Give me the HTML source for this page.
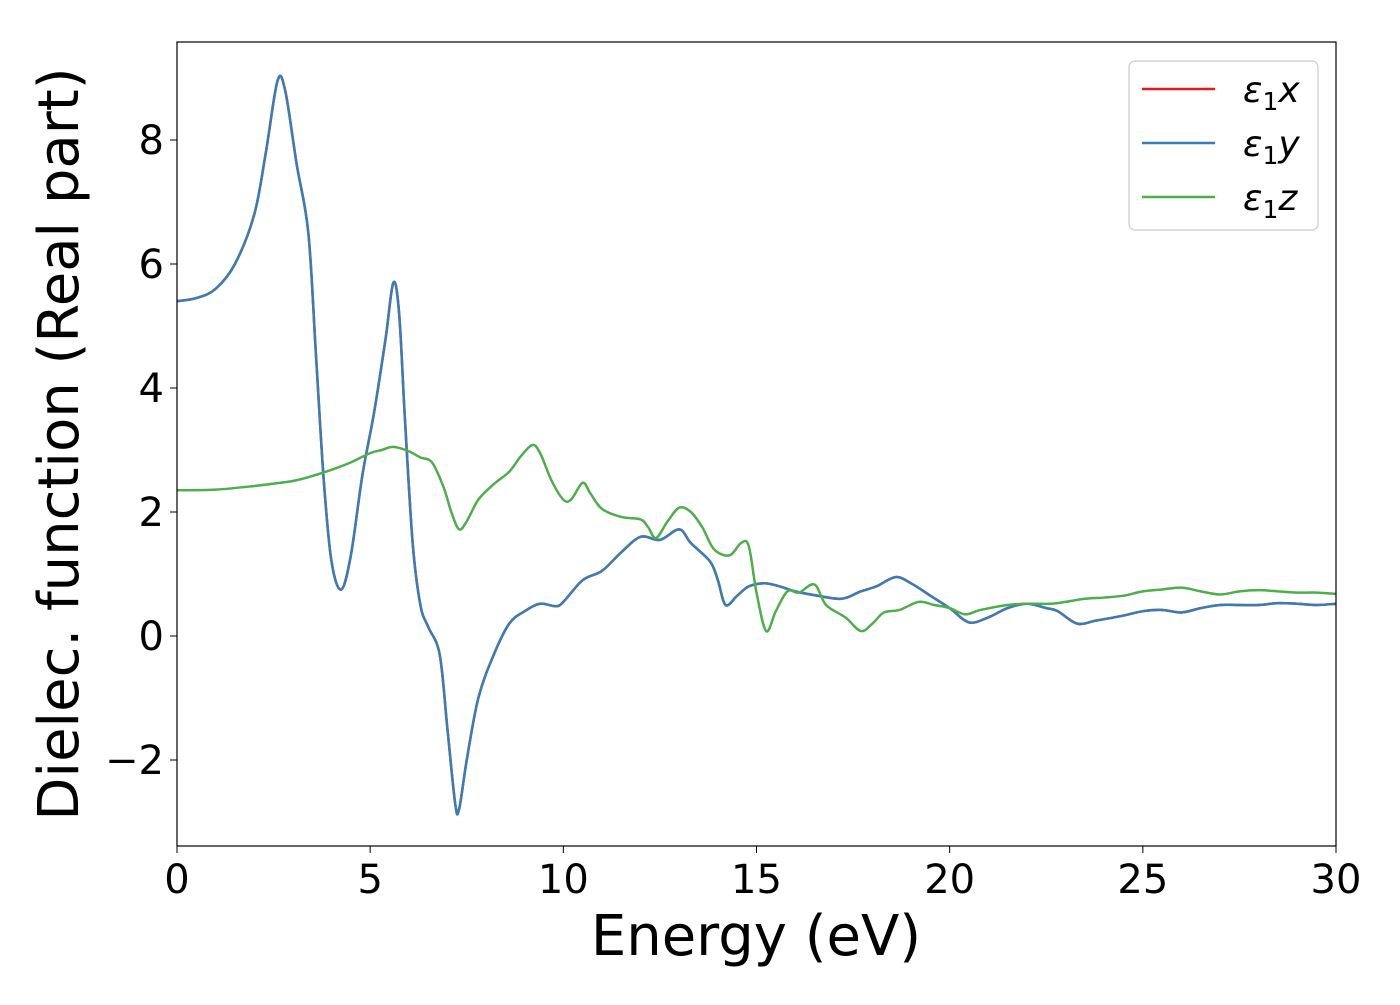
<!DOCTYPE html>
<html><head><meta charset="utf-8"><style>
body{margin:0;background:#fff;width:1400px;height:1000px;overflow:hidden}
svg text{font-family:"DejaVu Sans","Liberation Sans",sans-serif;fill:#000}
</style></head><body>
<svg id="chart" width="1400" height="1000" xmlns="http://www.w3.org/2000/svg">
<g id="marks"></g>
<rect x="177" y="42" width="1159" height="804" fill="none" stroke="#000" stroke-width="1.2"/>
<g id="ticks"></g>
<text x="756" y="955" font-size="56" text-anchor="middle">Energy (eV)</text>
<text transform="translate(78,444) rotate(-90)" font-size="56" text-anchor="middle">Dielec. function (Real part)</text>
<g>
<rect x="1129" y="61" width="189" height="169" rx="6" fill="#fff" stroke="#ccc" stroke-width="1.2"/>
<line x1="1142" y1="89" x2="1215" y2="89" stroke="#e41a1c" stroke-width="2.5"/>
<text x="1243" y="102" font-size="36"><tspan font-style="italic">ε</tspan><tspan font-size="25" dy="8">1</tspan><tspan font-style="italic" dy="-8">x</tspan></text>
<line x1="1142" y1="143" x2="1215" y2="143" stroke="#377eb8" stroke-width="2.5"/>
<text x="1243" y="156" font-size="36"><tspan font-style="italic">ε</tspan><tspan font-size="25" dy="8">1</tspan><tspan font-style="italic" dy="-8">y</tspan></text>
<line x1="1142" y1="197" x2="1215" y2="197" stroke="#4daf4a" stroke-width="2.5"/>
<text x="1243" y="210" font-size="36"><tspan font-style="italic">ε</tspan><tspan font-size="25" dy="8">1</tspan><tspan font-style="italic" dy="-8">z</tspan></text>
</g>
</svg>
<script>
const xyE=[0,0.5,1,1.5,2,2.3,2.6,2.8,3.1,3.4,3.6,3.8,4.0,4.25,4.5,4.8,5.1,5.4,5.6,5.75,5.9,6.1,6.3,6.5,6.8,7.0,7.2,7.3,7.5,7.8,8.2,8.6,9.0,9.4,9.8,10.0,10.5,11.0,11.5,12.0,12.5,13.0,13.3,13.8,14.0,14.2,14.5,14.8,15.2,15.6,16,16.5,17.2,17.7,18.1,18.6,19.0,19.5,20.0,20.5,21,21.5,22,22.5,22.8,23.3,23.8,24.5,25,25.5,26,26.5,27,27.5,28,28.5,29,29.5,30];
const xyVals=[5.4,5.45,5.6,6.0,6.8,7.8,8.95,8.8,7.6,6.5,4.5,2.5,1.2,0.75,1.3,2.6,3.6,4.8,5.7,5.2,3.5,1.5,0.5,0.15,-0.3,-1.5,-2.7,-2.8,-2.0,-1.0,-0.3,0.2,0.4,0.52,0.48,0.55,0.9,1.05,1.35,1.6,1.55,1.72,1.5,1.2,0.9,0.5,0.65,0.8,0.85,0.8,0.72,0.66,0.6,0.72,0.8,0.95,0.85,0.65,0.45,0.22,0.3,0.45,0.52,0.45,0.4,0.2,0.25,0.33,0.4,0.42,0.38,0.45,0.5,0.5,0.5,0.53,0.52,0.5,0.52];
const zE=[0,1,2,3,3.5,4,4.5,5,5.3,5.6,6.0,6.3,6.6,6.9,7.1,7.3,7.5,7.8,8.2,8.6,8.9,9.2,9.4,9.7,10.0,10.2,10.5,10.7,11,11.5,12,12.2,12.4,12.7,13.0,13.3,13.6,13.9,14.3,14.6,14.8,15.0,15.25,15.5,15.8,16.1,16.5,16.8,17.3,17.7,18.0,18.3,18.7,19.2,19.6,20,20.4,20.8,21.5,22,22.6,23,23.5,24,24.5,25,25.5,26,26.5,27,27.5,28,28.5,29,29.5,30];
const zVals=[2.35,2.36,2.42,2.5,2.58,2.68,2.8,2.95,3.0,3.05,2.98,2.88,2.8,2.4,2.0,1.72,1.85,2.2,2.45,2.65,2.9,3.08,2.95,2.5,2.2,2.2,2.47,2.3,2.05,1.92,1.88,1.75,1.58,1.85,2.07,2.0,1.75,1.4,1.3,1.5,1.45,0.7,0.08,0.4,0.72,0.7,0.83,0.5,0.3,0.08,0.2,0.38,0.42,0.55,0.5,0.45,0.35,0.42,0.5,0.52,0.52,0.55,0.6,0.62,0.65,0.72,0.75,0.78,0.72,0.67,0.72,0.74,0.72,0.7,0.7,0.68];
const xTicks=[0,5,10,15,20,25,30];
const yTicks=[-2,0,2,4,6,8];
const X=v=>177+v*(1336-177)/30;
const Y=v=>636-v*62;
const NS='http://www.w3.org/2000/svg';
function pathD(xs,ys){
  const p=xs.map((x,i)=>[X(x),Y(ys[i])]);
  let d='M'+p[0][0]+','+p[0][1];
  for(let i=0;i<p.length-1;i++){
    const p0=p[Math.max(i-1,0)],p1=p[i],p2=p[i+1],p3=p[Math.min(i+2,p.length-1)];
    const c1=[p1[0]+(p2[0]-p0[0])/6,p1[1]+(p2[1]-p0[1])/6];
    const c2=[p2[0]-(p3[0]-p1[0])/6,p2[1]-(p3[1]-p1[1])/6];
    d+=' C'+c1+' '+c2+' '+p2;
  }
  return d;
}
const marks=document.getElementById('marks');
function addLine(xs,ys,color,name){
  const el=document.createElementNS(NS,'path');
  el.setAttribute('d',pathD(xs,ys));
  el.setAttribute('fill','none');el.setAttribute('stroke',color);el.setAttribute('stroke-width','2.5');
  
  
  marks.appendChild(el);
}
addLine(xyE,xyVals,'#e41a1c','series-eps1-x');
addLine(xyE,xyVals,'#377eb8','series-eps1-y');
addLine(zE,zVals,'#4daf4a','series-eps1-z');
const tg=document.getElementById('ticks');
xTicks.forEach(t=>{
  const l=document.createElementNS(NS,'line');
  l.setAttribute('x1',X(t));l.setAttribute('x2',X(t));l.setAttribute('y1',846);l.setAttribute('y2',853);l.setAttribute('stroke','#000');
  
  
  tg.appendChild(l);
  const s=document.createElementNS(NS,'text');
  s.setAttribute('x',X(t));s.setAttribute('y',893);s.setAttribute('font-size','40');s.setAttribute('text-anchor','middle');
  s.textContent=t;
  
  
  tg.appendChild(s);
});
yTicks.forEach(t=>{
  const l=document.createElementNS(NS,'line');
  l.setAttribute('x1',170);l.setAttribute('x2',177);l.setAttribute('y1',Y(t));l.setAttribute('y2',Y(t));l.setAttribute('stroke','#000');
  
  
  tg.appendChild(l);
  const s=document.createElementNS(NS,'text');
  s.setAttribute('x',164);s.setAttribute('y',Y(t)+14);s.setAttribute('font-size','40');s.setAttribute('text-anchor','end');
  s.textContent=t<0?'\u2212'+(-t):String(t);
  
  
  tg.appendChild(s);
});
</script>
</body></html>
